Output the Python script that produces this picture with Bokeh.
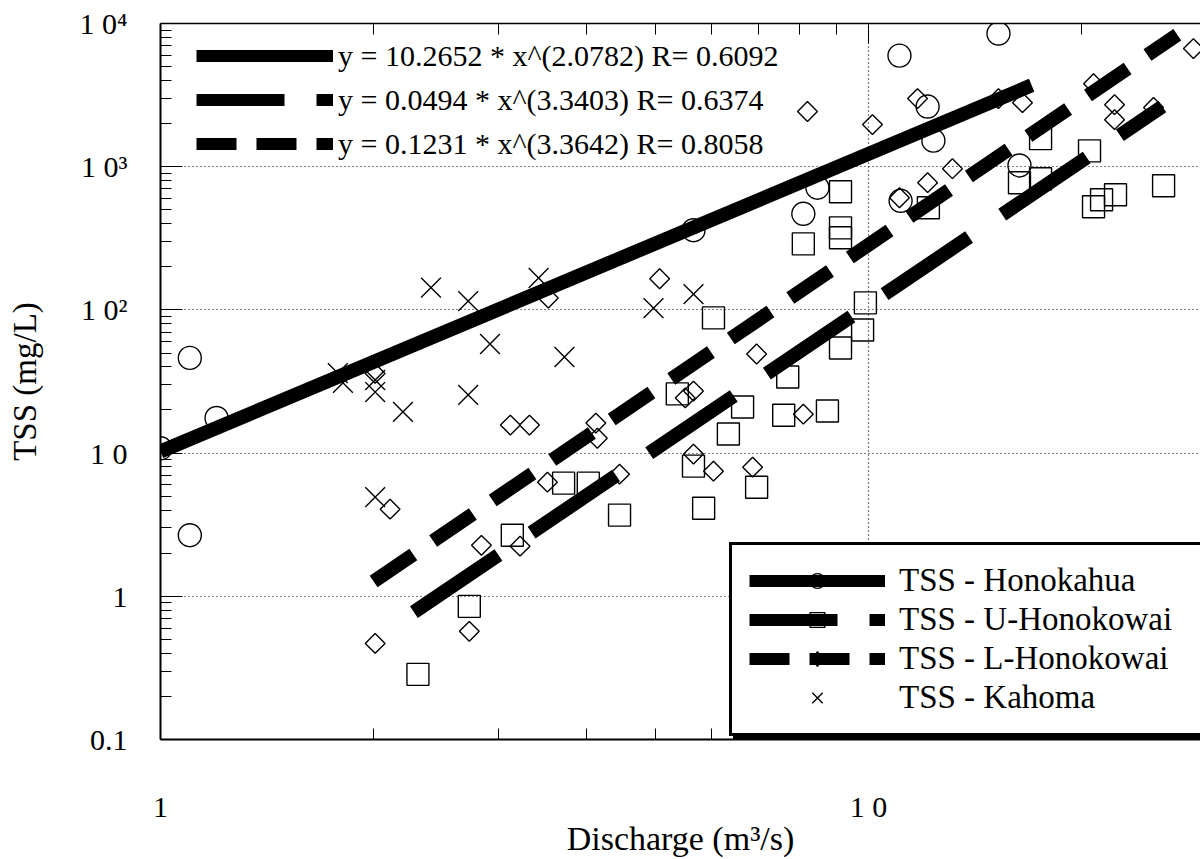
import numpy as np
from bokeh.plotting import figure
from bokeh.models import Range1d, FixedTicker, LogAxis, Legend, LegendItem
from bokeh.embed import file_html
from bokeh.resources import INLINE

# ---------------- data ----------------
hon_x = [1.0, 1.10, 1.20, 1.10, 5.66, 8.47, 8.09, 11.06, 15.26, 12.12, 12.35, 11.10, 16.34]
hon_y = [10.8, 46.2, 17.6, 2.67, 360, 713, 469, 5970, 8510, 2630, 1520, 578, 1020]

uh_x = [2.31, 2.73, 3.14, 3.71, 4.02, 4.45, 5.85, 5.66, 6.95, 5.37, 6.64, 6.34, 7.59, 8.75,
        6.04, 9.90, 9.81, 9.13, 7.69, 8.09, 9.13, 9.13, 9.13, 12.15, 16.34, 17.50, 17.50,
        20.52, 20.79, 21.34, 22.33, 26.11]
uh_y = [0.285, 0.851, 2.67, 6.17, 6.17, 3.69, 4.12, 8.11, 5.78, 25.9, 21.0, 13.6, 18.4, 19.7,
        87.9, 112, 72.4, 54.2, 34.0, 289, 669, 374, 319, 517, 773, 824, 1570,
        1290, 525, 588, 637, 737]

lh_x = [2.01, 2.11, 2.01, 2.73, 2.84, 3.22, 3.12, 3.32, 3.52, 3.53, 4.12, 4.14, 4.45, 5.07,
        5.51, 5.66, 5.66, 6.04, 6.86, 6.95, 8.09, 8.20, 10.13, 11.73, 13.14, 12.12, 11.06,
        15.26, 16.50, 20.79, 22.26, 22.26, 25.27, 28.77]
lh_y = [0.469, 4.06, 36.0, 0.569, 2.27, 2.24, 15.7, 15.7, 6.27, 121, 16.2, 12.7, 7.13, 165,
        24.3, 27.1, 9.84, 7.48, 7.98, 49.2, 18.7, 2430, 1970, 2990, 968, 773, 607,
        2990, 2800, 3800, 2710, 2130, 2590, 6680]

kah_x = [1.78, 1.81, 2.01, 2.01, 2.01, 2.20, 2.41, 2.72, 2.72, 2.92, 3.42, 3.72, 4.97, 5.66]
kah_y = [36.2, 30.9, 32.4, 26.7, 4.92, 19.4, 143, 115, 25.5, 57.8, 167, 46.9, 103, 129]

series_labels = ["TSS - Honokahua", "TSS - U-Honokowai", "TSS - L-Honokowai", "TSS - Kahoma"]

# power-law fits shown on the chart: y = a * x^b
fit_a = [10.2652, 0.0494, 0.1231]
fit_b = [2.0782, 3.3403, 3.3642]
fit_r = [0.6092, 0.6374, 0.8058]
fit_x_start = [1.0, 2.28, 2.0]
fit_x_end = [17.0, 26.0, 27.3]

x_ticks = [1, 10]
x_tick_labels = ["1", "1 0"]
y_ticks = [0.1, 1, 10, 100, 1000, 10000]
y_tick_labels = ["0.1", "1", "1 0", "1 0\u00b2", "1 0\u00b3", "1 0\u2074"]

FONT = "Liberation Serif"
INK = "black"

p = figure(width=1200, height=859, x_axis_type="log", y_axis_type="log",
           x_range=Range1d(1, 29.44), y_range=Range1d(0.1, 10000),
           output_backend="svg", toolbar_location=None,
           min_border_left=160, min_border_right=0, min_border_top=23, min_border_bottom=119)
p.outline_line_color = None
p.background_fill_color = "white"
p.border_fill_color = "white"

x_minor = [m * 10 ** e for e in (0, 1) for m in range(2, 10)]
y_minor = [m * 10 ** e for e in range(-1, 4) for m in range(2, 10)]

# bottom axis
xa = p.xaxis[0]
xa.ticker = FixedTicker(ticks=x_ticks, minor_ticks=x_minor)
xa.major_label_overrides = dict(zip(x_ticks, x_tick_labels))
xa.major_tick_in = 20
xa.major_tick_out = 0
xa.minor_tick_in = 11
xa.minor_tick_out = 0
xa.axis_line_width = 2
xa.axis_line_color = INK
xa.major_tick_line_color = INK
xa.minor_tick_line_color = INK
xa.major_label_standoff = 50
xa.major_label_text_font = FONT
xa.major_label_text_font_size = "30px"
xa.major_label_text_color = INK
xa.axis_label = "Discharge (m\u00b3/s)"
xa.axis_label_text_font = FONT
xa.axis_label_text_font_size = "34px"
xa.axis_label_text_font_style = "normal"
xa.axis_label_text_color = INK
xa.axis_label_standoff = -6

# left axis
ya = p.yaxis[0]
ya.ticker = FixedTicker(ticks=y_ticks, minor_ticks=y_minor)
ya.major_label_overrides = dict(zip(y_ticks, y_tick_labels))
ya.major_tick_in = 22
ya.major_tick_out = 0
ya.minor_tick_in = 11
ya.minor_tick_out = 0
ya.axis_line_width = 2
ya.axis_line_color = INK
ya.major_tick_line_color = INK
ya.minor_tick_line_color = INK
ya.major_label_standoff = 33
ya.major_label_text_font = FONT
ya.major_label_text_font_size = "30px"
ya.major_label_text_color = INK
ya.axis_label = "TSS (mg/L)"
ya.axis_label_text_font = FONT
ya.axis_label_text_font_size = "33px"
ya.axis_label_text_font_style = "normal"
ya.axis_label_text_color = INK
ya.axis_label_standoff = 34

# top axis (ticks only)
top = LogAxis(ticker=FixedTicker(ticks=[10], minor_ticks=x_minor),
              major_tick_in=20, major_tick_out=0, minor_tick_in=11, minor_tick_out=0,
              axis_line_width=1.5, axis_line_color=INK, major_tick_line_color=INK,
              minor_tick_line_color=INK,
              major_label_text_font_size="0px", major_label_standoff=0,
              major_label_text_alpha=0)
p.add_layout(top, "above")

# grids
p.xgrid[0].ticker = FixedTicker(ticks=[10])
p.ygrid[0].ticker = FixedTicker(ticks=[1, 10, 100, 1000])
for g in (p.xgrid[0], p.ygrid[0]):
    g.grid_line_color = INK
    g.grid_line_dash = "1 3"
    g.grid_line_width = 1.2
    g.grid_line_alpha = 1

# markers
mk = dict(fill_color=None, line_color=INK, line_width=1.4)
s_h = p.scatter(hon_x, hon_y, marker="circle", size=23, **mk)
s_u = p.scatter(uh_x, uh_y, marker="square", size=22, **mk)
s_l = p.scatter(lh_x, lh_y, marker="square", angle=np.pi / 4, size=14, **mk)
s_k = p.scatter(kah_x, kah_y, marker="x", size=28, line_color=INK, line_width=1.4)

# fit lines (straight on log-log axes: drawn between their end points)
plot_dash = ["solid", "102 40", "48 24"]
legend_dash = ["solid", "88 32", "40 20"]
for a, b, x0, x1, d in zip(fit_a, fit_b, fit_x_start, fit_x_end, plot_dash):
    xs = [x0, x1]
    ys = [a * xv ** b for xv in xs]
    p.line(xs, ys, line_width=14, line_color=INK, line_dash=d)

# legend-only samples (NaN data: nothing is drawn inside the plot)
leg_lines = [p.line(x=[np.nan, np.nan], y=[np.nan, np.nan], line_width=12, line_color=INK,
                    line_dash=d) for d in legend_dash]
leg_diamond = p.scatter(x=[np.nan], y=[np.nan], marker="diamond", size=21, **mk)

eq_labels = [f"y = {a:.4f} * x^({b:.4f}) R= {r:.4f}" for a, b, r in zip(fit_a, fit_b, fit_r)]
legend_eq = Legend(items=[LegendItem(label=t, renderers=[r]) for t, r in zip(eq_labels, leg_lines)],
                   location=(26, 565), glyph_width=137, glyph_height=41, label_height=41,
                   spacing=3, padding=10, label_standoff=5,
                   background_fill_alpha=0, border_line_alpha=0,
                   label_text_font=FONT, label_text_font_size="30px", label_text_color=INK)
p.add_layout(legend_eq)

PAD, GW, GH, SP, LW, LS = 17, 136, 37, 2, 330, 14
main_items = [
    LegendItem(label=series_labels[0], renderers=[leg_lines[0], s_h]),
    LegendItem(label=series_labels[1], renderers=[leg_lines[1], s_u]),
    LegendItem(label=series_labels[2], renderers=[leg_lines[2], leg_diamond]),
    LegendItem(label=series_labels[3], renderers=[s_k]),
]

# drop shadow of the legend box: one black block of the same size, offset down-right
n = len(main_items)
legend_shadow = Legend(items=[LegendItem(label="", renderers=[leg_lines[0]])],
                       location=(573, -9), glyph_width=GW, glyph_height=n * GH + (n - 1) * SP,
                       label_height=GH, spacing=SP, padding=PAD, label_standoff=LS,
                       label_width=LW, label_text_font_size="0px",
                       border_line_color=INK, border_line_width=3, border_line_alpha=1,
                       background_fill_color=INK, background_fill_alpha=1)
p.add_layout(legend_shadow)

legend_main = Legend(items=main_items, location=(569, 3),
                     glyph_width=GW, glyph_height=GH, label_height=GH, spacing=SP,
                     padding=PAD, label_standoff=LS, label_width=LW,
                     label_text_font=FONT, label_text_font_size="33px", label_text_color=INK,
                     border_line_color=INK, border_line_width=3, border_line_alpha=1,
                     background_fill_color="white", background_fill_alpha=1)
p.add_layout(legend_main)

open("out.html", "w").write(file_html(p, INLINE))
